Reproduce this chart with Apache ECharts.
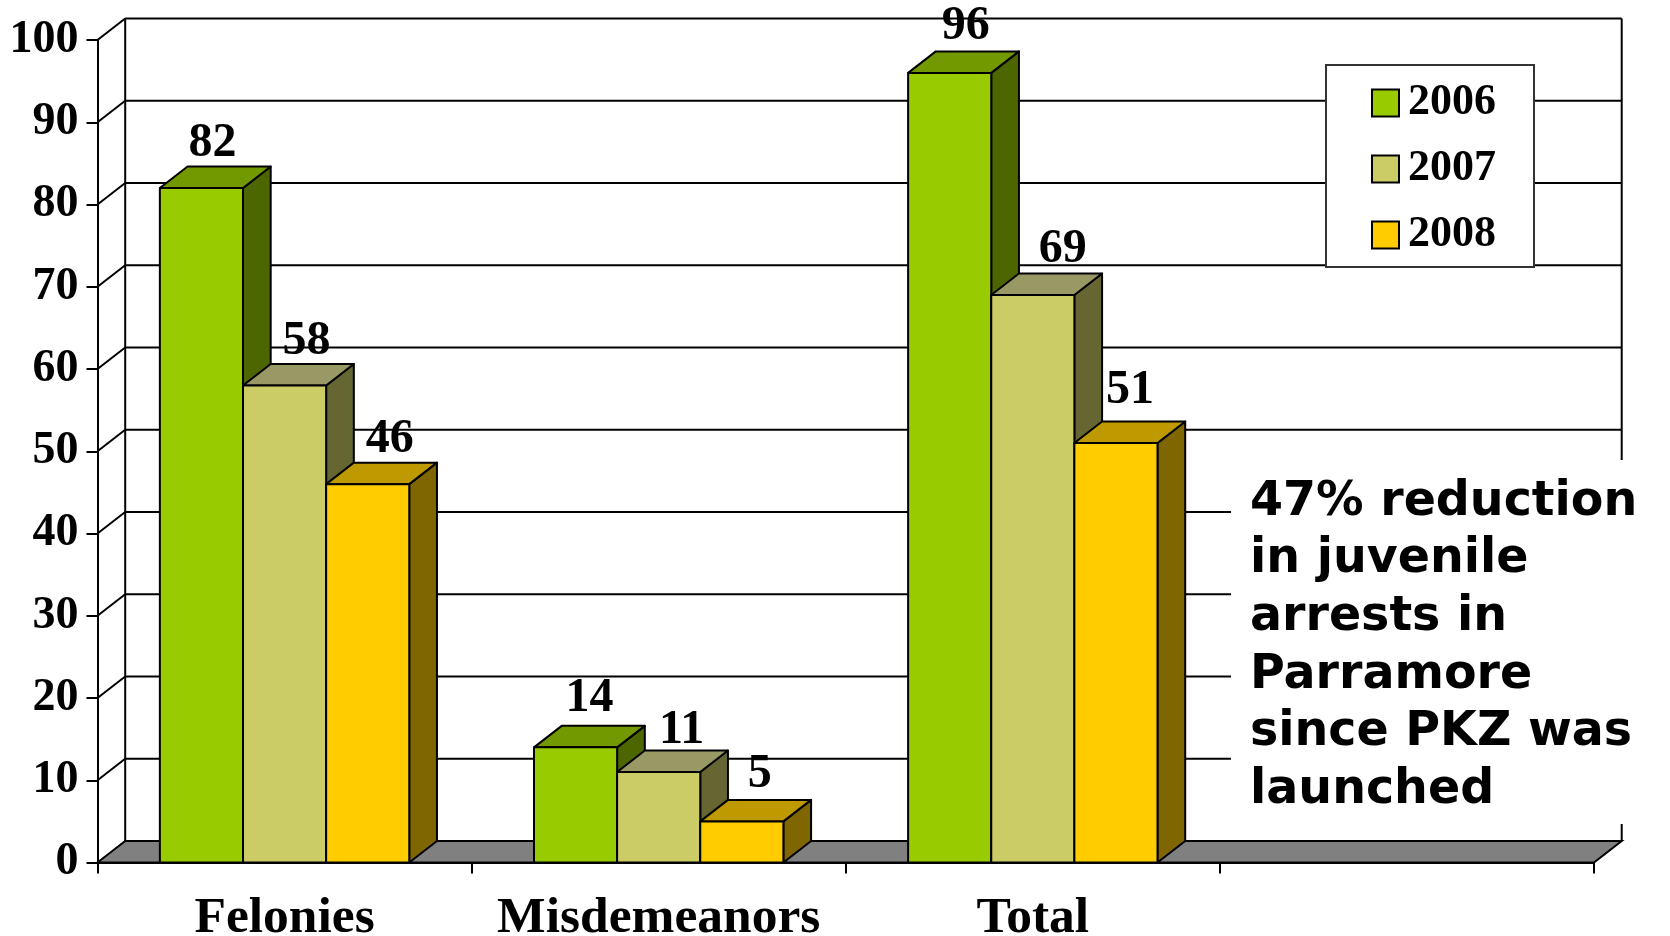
<!DOCTYPE html>
<html>
<head>
<meta charset="utf-8">
<style>html,body{margin:0;padding:0;background:#fff}#c{width:1670px;height:936px}</style>
<script src="https://cdn.jsdelivr.net/npm/echarts@6/dist/echarts.min.js"></script>
</head>
<body>
<div id="c"></div>
<script>
const categories = ['Felonies', 'Misdemeanors', 'Total', ''];
const seriesNames = ['2006', '2007', '2008'];
const values2006 = [82, 14, 96];
const values2007 = [58, 11, 69];
const values2008 = [46, 5, 51];
const yTicks = [0, 10, 20, 30, 40, 50, 60, 70, 80, 90, 100];
const frontColors = ['#99CC00', '#CCCC66', '#FFCC00'];
const topColors = ['#739900', '#999966', '#BF9900'];
const sideColors = ['#4D6600', '#666633', '#806600'];
const noteLines = ['47% reduction', 'in juvenile', 'arrests in', 'Parramore', 'since PKZ was', 'launched'];
const labelNudgeX = [[11, 14, 16], [22, 23, 30], [22, 18, 14]];
const labelNudgeY = [[2, -2, 0], [3, 5, 1], [2, 0, -6]];

const DX = 27.7, DY = 21.5;
const SERIF = '"Liberation Serif", serif';
const chart = echarts.init(document.getElementById('c'), null, {renderer: 'canvas'});

function bar3d(idx) {
  return function (params, api) {
    const cat = api.value(0), val = api.value(1);
    const base = api.coord([cat, 0]);
    const topP = api.coord([cat, val]);
    const w = api.size([1, 0])[0] * 0.2222;
    const x0 = base[0] + (idx - 1.5) * w, x1 = x0 + w;
    const yT = topP[1], yB = base[1];
    const st = {stroke: '#000', lineWidth: 2, lineJoin: 'round'};
    return {type: 'group', children: [
      {type: 'polygon', shape: {points: [[x1, yT], [x1 + DX, yT - DY], [x1 + DX, yB - DY], [x1, yB]]},
        style: Object.assign({fill: sideColors[idx]}, st)},
      {type: 'polygon', shape: {points: [[x0, yT], [x0 + DX, yT - DY], [x1 + DX, yT - DY], [x1, yT]]},
        style: Object.assign({fill: topColors[idx]}, st)},
      {type: 'rect', shape: {x: x0, y: yT, width: w, height: yB - yT},
        style: Object.assign({fill: frontColors[idx]}, st)},
      {type: 'text', x: x0 + w / 2 + labelNudgeX[idx][cat], y: yT - DY - 1 + labelNudgeY[idx][cat], z2: 50,
        style: {text: String(val), fill: '#000', font: 'bold 48px ' + SERIF, align: 'center', verticalAlign: 'bottom'}}
    ]};
  };
}

function wallItem(params, api) {
  const v = api.value(0);
  const half = api.size([1, 0])[0] / 2;
  const left = api.coord([0, v]);
  const xLeft = left[0] - half;
  const xRight = api.coord([3, v])[0] + half;
  const children = [];
  const lw = {stroke: '#000', lineWidth: 2};
  if (v === 0) {
    children.push({type: 'polygon',
      shape: {points: [[xLeft, left[1]], [xLeft + DX, left[1] - DY], [xRight + DX, left[1] - DY], [xRight, left[1]]]},
      style: {fill: '#808080', stroke: '#000', lineWidth: 2}});
    const top = api.coord([0, 100])[1];
    children.push({type: 'line', shape: {x1: xLeft + DX, y1: left[1] - DY, x2: xLeft + DX, y2: top - DY}, style: lw});
    children.push({type: 'line', shape: {x1: xRight + DX, y1: left[1] - DY, x2: xRight + DX, y2: top - DY}, style: lw});
  } else {
    children.push({type: 'line', shape: {x1: xLeft, y1: left[1], x2: xLeft + DX, y2: left[1] - DY}, style: lw});
    children.push({type: 'line', shape: {x1: xLeft + DX, y1: left[1] - DY, x2: xRight + DX, y2: left[1] - DY}, style: lw});
  }
  return {type: 'group', children};
}

const valueSets = [values2006, values2007, values2008];
const option = {
  animation: false,
  backgroundColor: '#fff',
  grid: {left: 97.5, right: 76, top: 40, bottom: 73.5, containLabel: false, outerBoundsMode: 'none'},
  xAxis: {
    type: 'category', data: categories, boundaryGap: true, z: 5,
    axisLine: {show: true, lineStyle: {color: '#000', width: 2}},
    axisTick: {show: true, length: 11, alignWithLabel: false, interval: 0, lineStyle: {color: '#000', width: 2}},
    axisLabel: {interval: 0, margin: 30, color: '#000', fontFamily: SERIF, fontWeight: 'bold', fontSize: 51.5},
    splitLine: {show: false}
  },
  yAxis: {
    type: 'value', min: 0, max: 100, interval: 10,
    axisLine: {show: true, lineStyle: {color: '#000', width: 2}},
    axisTick: {show: true, length: 11, lineStyle: {color: '#000', width: 2}},
    axisLabel: {margin: 19, color: '#000', fontFamily: SERIF, fontWeight: 'bold', fontSize: 46, formatter: v => String(v)},
    splitLine: {show: false}
  },
  legend: {
    show: true, data: seriesNames, orient: 'vertical', left: 1326, top: 65, icon: 'rect',
    padding: [16, 38, 10, 45], itemWidth: 27, itemHeight: 27, itemGap: 22,
    backgroundColor: '#fff', borderColor: '#333', borderWidth: 2, z: 30,
    itemStyle: {borderColor: '#000', borderWidth: 2},
    textStyle: {color: '#000', fontFamily: SERIF, fontWeight: 'bold', fontSize: 44, padding: [4, 0, 0, 4]}
  },
  graphic: [
    {type: 'rect', z: 10, shape: {x: 1231, y: 460, width: 439, height: 364}, style: {fill: '#fff'}},
    {type: 'text', z: 11, x: 1250, y: 473.5,
      style: {text: noteLines.join('\n'), fill: '#000', font: 'bold 47.5px "DejaVu Sans", sans-serif', lineHeight: 57.7}}
  ],
  series: [
    {type: 'custom', name: 'walls', z: 1, silent: true, encode: {y: 0},
      coordinateSystem: 'cartesian2d', data: yTicks.map(v => [v]), renderItem: wallItem, clip: false, legendHoverLink: false}
  ].concat(seriesNames.map((n, i) => ({
    type: 'custom', name: n, z: 2 + i, coordinateSystem: 'cartesian2d', clip: false,
    itemStyle: {color: frontColors[i]},
    encode: {x: 0, y: 1},
    data: valueSets[i].map((v, c) => [c, v]),
    renderItem: bar3d(i)
  })))
};
chart.setOption(option);
</script>
</body>
</html>
